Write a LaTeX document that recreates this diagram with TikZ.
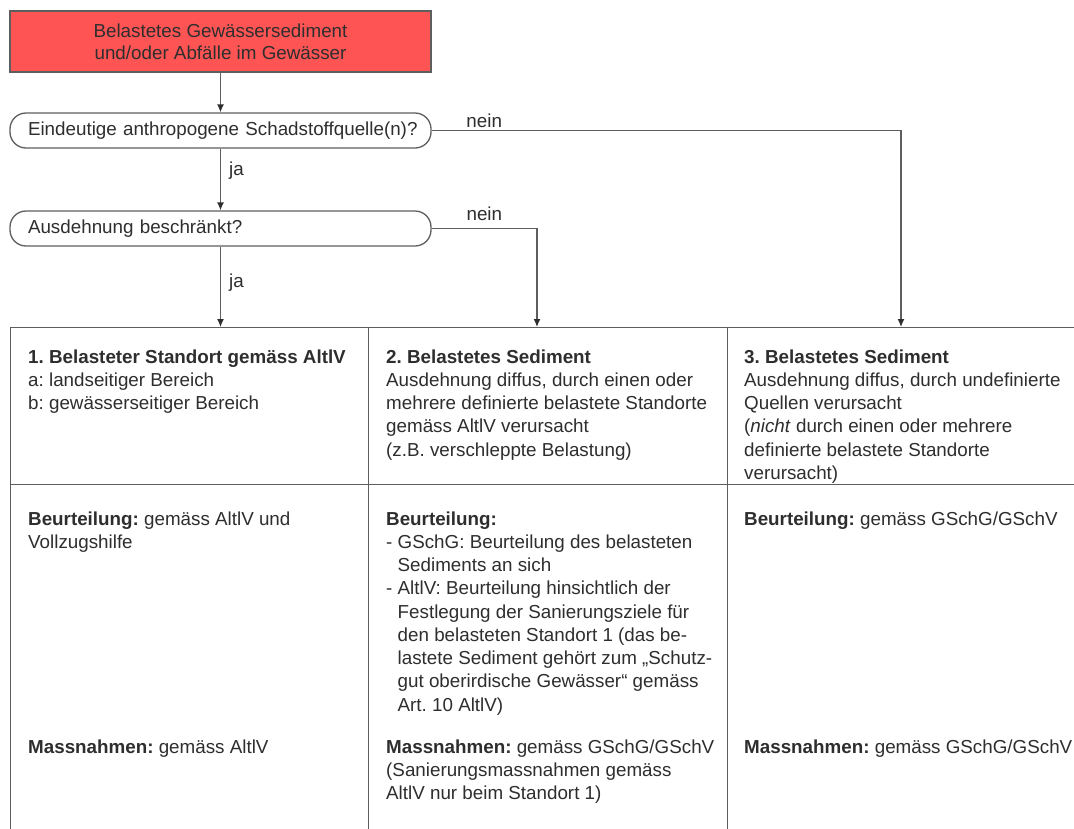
\documentclass[tikz,border=0pt]{standalone}
\usepackage{fontspec}
\setmainfont{Liberation Sans}
\usetikzlibrary{arrows.meta}
\definecolor{lc}{HTML}{5E5E5E}
\definecolor{tc}{HTML}{2E2E2E}
\definecolor{redfill}{HTML}{FF5454}
\newcommand{\tstrut}{\rule{0pt}{14pt}}
\frenchspacing
\begin{document}
\begin{tikzpicture}[x=1pt,y=-1pt,
  font=\fontsize{18.8}{23.25}\selectfont\frenchspacing, text=tc,
  line/.style={draw=lc, line width=1.3pt},
  arr/.style={line, -{Latex[length=8pt,width=7pt,color=tc]}},
  decision/.style={line, rounded corners=16pt, minimum height=35pt, text width=385pt, inner xsep=18pt, inner ysep=0pt, align=left},
  cell/.style={line, inner sep=0pt, anchor=north west},
  txt/.style={anchor=north west, inner sep=0pt, align=left},
  lbl/.style={inner sep=0pt, font=\fontsize{18.8}{22}\selectfont}]
\useasboundingbox (0,0) rectangle (1074,828);
\fill[white] (0,0) rectangle (1074,828);

% table cells
\node[cell, minimum width=358pt, minimum height=157pt] (c11) at (10,327) {};
\node[cell, minimum width=359pt, minimum height=157pt] (c21) at (368,327) {};
\node[cell, minimum width=380pt, minimum height=157pt] (c31) at (727,327) {};
\node[cell, minimum width=358pt, minimum height=360pt] (c12) at (10,484) {};
\node[cell, minimum width=359pt, minimum height=360pt] (c22) at (368,484) {};
\node[cell, minimum width=380pt, minimum height=360pt] (c32) at (727,484) {};

% top flow
\node[line, fill=redfill, minimum width=421pt, minimum height=61pt, inner sep=0pt, align=center, font=\fontsize{18.8}{22}\selectfont] (start) at (220.5,41.5) {Belastetes Gewässersediment\\und/oder Abfälle im Gewässer};
\node[decision] (q1) at (220.5,130.5) {\makebox[385pt][l]{Eindeutige anthropogene Schadstoffquelle(n)?}};
\node[decision] (q2) at (220.5,228.5) {Ausdehnung beschränkt?};

\coordinate (t1) at (220.5,327);
\coordinate (t2) at (537,327);
\coordinate (t3) at (901,327);

\draw[arr] (start) -- (q1);
\draw[arr] (q1) -- node[lbl, right=8pt, pos=0.35] {ja} (q2);
\draw[arr] (q2) -- node[lbl, right=8pt, pos=0.45] {ja} (t1);
\draw[arr] (q1.east) -| node[lbl, above=2pt, pos=0.056] {nein} (t3);
\draw[arr] (q2.east) -| node[lbl, above=7pt, pos=0.25] {nein} (t2);

% column texts
\node[txt] (h1) at (28,349) {\tstrut\textbf{1. Belasteter Standort gemäss AltlV}\\a: landseitiger Bereich\\b: gewässerseitiger Bereich};
\node[txt] (b1) at (28,511) {\tstrut\textbf{Beurteilung:} gemäss AltlV und\\Vollzugshilfe};
\node[txt] (m1) at (28,739) {\tstrut\textbf{Massnahmen:} gemäss AltlV};

\node[txt] (h2) at (386,349) {\tstrut\textbf{2. Belastetes Sediment}\\Ausdehnung diffus, durch einen oder\\mehrere definierte belastete Standorte\\gemäss AltlV verursacht\\(z.B. verschleppte Belastung)};
\node[txt] (b2) at (386,511) {\tstrut\textbf{Beurteilung:}\\- GSchG: Beurteilung des belasteten\\\phantom{- }Sediments an sich\\- AltlV: Beurteilung hinsichtlich der\\\phantom{- }Festlegung der Sanierungsziele für\\\phantom{- }den belasteten Standort 1 (das be-\\\phantom{- }lastete Sediment gehört zum „Schutz-\\\phantom{- }gut oberirdische Gewässer“ gemäss\\\phantom{- }Art. 10 AltlV)};
\node[txt] (m2) at (386,739) {\tstrut\textbf{Massnahmen:} gemäss GSchG/GSchV\\(Sanierungsmassnahmen gemäss\\AltlV nur beim Standort 1)};

\node[txt] (h3) at (744,349) {\tstrut\textbf{3. Belastetes Sediment}\\Ausdehnung diffus, durch undefinierte\\Quellen verursacht\\(\textit{nicht} durch einen oder mehrere\\definierte belastete Standorte\\verursacht)};
\node[txt] (b3) at (744,511) {\tstrut\textbf{Beurteilung:} gemäss GSchG/GSchV};
\node[txt] (m3) at (744,739) {\tstrut\textbf{Massnahmen:} gemäss GSchG/GSchV};
\end{tikzpicture}
\end{document}
